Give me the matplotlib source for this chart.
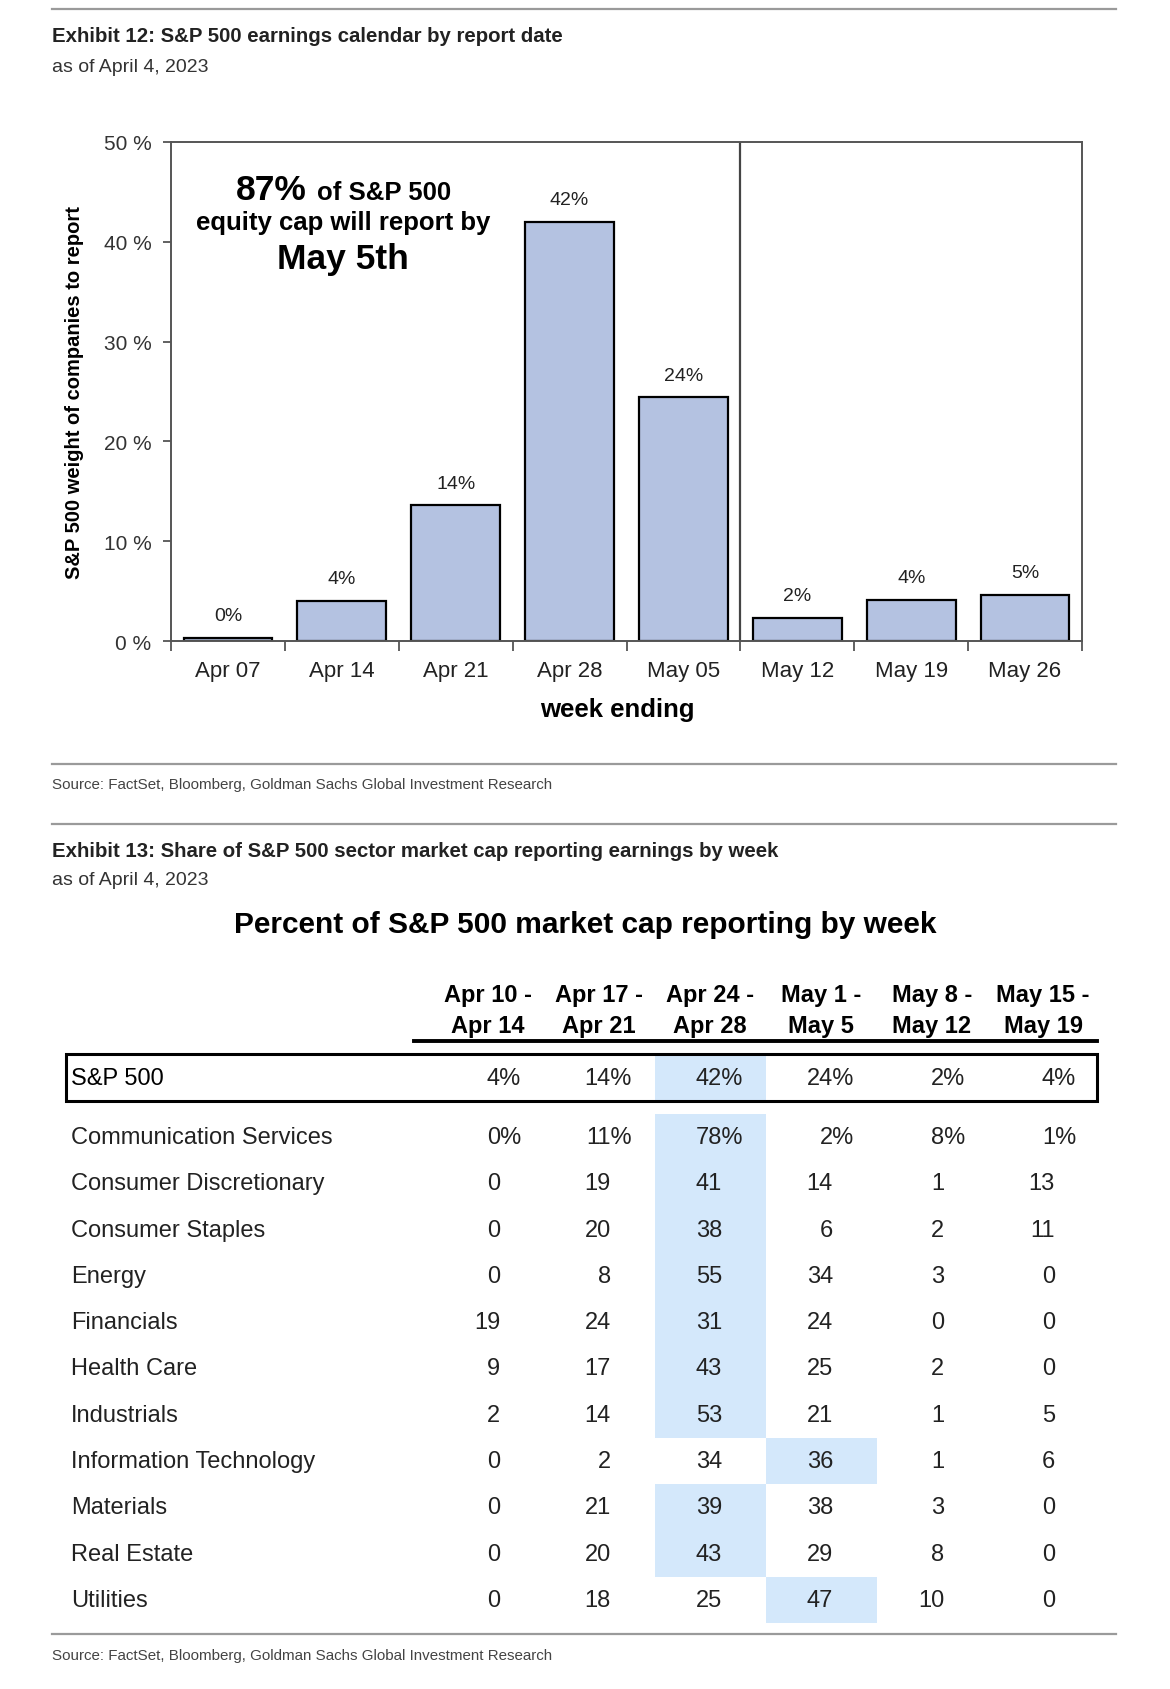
import matplotlib
matplotlib.use('Agg')
import matplotlib.pyplot as plt
import numpy as np
from matplotlib import font_manager
from matplotlib.patches import Rectangle

# 字型：圖表用 Arial 相容字型，標題用窄體（若有）
plt.rcParams['font.family'] = ['Liberation Sans', 'DejaVu Sans']
names = {f.name for f in font_manager.fontManager.ttflist}
NARROW = 'Liberation Sans Narrow' if 'Liberation Sans Narrow' in names else 'Liberation Sans'

# ---- 資料 ----
weeks = ['Apr 07', 'Apr 14', 'Apr 21', 'Apr 28', 'May 05', 'May 12', 'May 19', 'May 26']
weights = [0.3, 4.0, 13.6, 42.0, 24.4, 2.3, 4.1, 4.6]
weight_labels = ['0%', '4%', '14%', '42%', '24%', '2%', '4%', '5%']

col_top = ['Apr 10 -', 'Apr 17 -', 'Apr 24 -', 'May 1 -', 'May 8 -', 'May 15 -']
col_bottom = ['Apr 14', 'Apr 21', 'Apr 28', 'May 5', 'May 12', 'May 19']
spx_row = [4, 14, 42, 24, 2, 4]
sectors = ['Communication Services', 'Consumer Discretionary', 'Consumer Staples',
           'Energy', 'Financials', 'Health Care', 'Industrials',
           'Information Technology', 'Materials', 'Real Estate', 'Utilities']
sector_vals = [
    [0, 11, 78, 2, 8, 1],
    [0, 19, 41, 14, 1, 13],
    [0, 20, 38, 6, 2, 11],
    [0, 8, 55, 34, 3, 0],
    [19, 24, 31, 24, 0, 0],
    [9, 17, 43, 25, 2, 0],
    [2, 14, 53, 21, 1, 5],
    [0, 2, 34, 36, 1, 6],
    [0, 21, 39, 38, 3, 0],
    [0, 20, 43, 29, 8, 0],
    [0, 18, 25, 47, 10, 0],
]

source = 'Source: FactSet, Bloomberg, Goldman Sachs Global Investment Research'
asof = 'as of April 4, 2023'

W, H = 1170, 1690
fig = plt.figure(figsize=(W / 100, H / 100), dpi=100)


def fx(x):
    return x / W


def fy(y):
    return 1 - y / H


def hline(y, x0=52, x1=1116, color='#9a9a9a', lw=1.6):
    fig.add_artist(plt.Line2D([fx(x0), fx(x1)], [fy(y), fy(y)], color=color, lw=lw))


# ---- Exhibit 12 ----
hline(10)
fig.text(fx(52), fy(36), 'Exhibit 12: S&P 500 earnings calendar by report date',
         family=NARROW, weight='bold', fontsize=14.7, va='center', color='#222222')
fig.text(fx(52), fy(67), asof, family=NARROW, fontsize=14, va='center', color='#333333')

ax = fig.add_axes([fx(171), fy(642), (1082 - 171) / W, (642 - 143) / H])
x = np.arange(len(weeks))
ax.bar(x, weights, width=0.78, color='#b4c2e1', edgecolor='black', linewidth=1.6)
for i, (v, lbl) in enumerate(zip(weights, weight_labels)):
    ax.annotate(lbl, (i, v), xytext=(0, 16), textcoords='offset points',
                ha='center', va='center', fontsize=14, color='#222222')
ax.axvline(4.5, color='#444444', lw=1.6)
ax.set_xlim(-0.5, len(weeks) - 0.5)
ax.set_ylim(0, 50)
ax.set_yticks(range(0, 51, 10))
ax.set_yticklabels([f'{t} %' for t in range(0, 51, 10)])
ax.set_xticks(x)
ax.set_xticklabels(weeks)
ax.set_xticks(np.arange(-0.5, len(weeks), 1), minor=True)
ax.tick_params(axis='x', which='major', length=0, pad=14, labelsize=16, labelcolor='#222222')
ax.tick_params(axis='x', which='minor', length=7, width=1.3, color='#555555')
ax.tick_params(axis='y', length=6, width=1.3, color='#555555', pad=8, labelsize=15, labelcolor='#333333')
for s in ax.spines.values():
    s.set_color('#555555')
    s.set_linewidth(1.4)
ax.set_ylabel('S&P 500 weight of companies to report', fontsize=14.5, weight='bold', labelpad=14)
fig.text(fx(617), fy(710), 'week ending', fontsize=18.5, weight='bold', ha='center', va='center')

fig.text(fx(307), fy(200), '87%', fontsize=25.5, weight='bold', ha='right', va='baseline')
fig.text(fx(317), fy(200), 'of S&P 500', fontsize=18.5, weight='bold', ha='left', va='baseline')
fig.text(fx(343), fy(223), 'equity cap will report by', fontsize=18.5, weight='bold', ha='center', va='center')
fig.text(fx(343), fy(259), 'May 5th', fontsize=25.5, weight='bold', ha='center', va='center')

hline(765)
fig.text(fx(52), fy(785), source, family=NARROW, fontsize=10.9, va='center', color='#444444')

# ---- Exhibit 13 ----
hline(825)
fig.text(fx(52), fy(852), 'Exhibit 13: Share of S&P 500 sector market cap reporting earnings by week',
         family=NARROW, weight='bold', fontsize=14.7, va='center', color='#222222')
fig.text(fx(52), fy(881), asof, family=NARROW, fontsize=14, va='center', color='#333333')
fig.text(fx(585), fy(925), 'Percent of S&P 500 market cap reporting by week',
         fontsize=21.5, weight='bold', ha='center', va='center')

tb = fig.add_axes([0, 0, 1, 1], zorder=-1)
tb.set_xlim(0, W)
tb.set_ylim(H, 0)
tb.axis('off')

COL0, COLW = 488, 111
SPX_Y, ROW0, ROWH = 1079, 1138, 46.3
col_x = [COL0 + i * COLW for i in range(len(col_top))]
hl = '#d4e8fb'

for i in range(len(col_top)):
    tb.text(col_x[i], 996, col_top[i], fontsize=17, weight='bold', ha='center', va='center')
    tb.text(col_x[i], 1027, col_bottom[i], fontsize=17, weight='bold', ha='center', va='center')
tb.plot([414, 1097], [1042, 1042], color='black', lw=2.8)

# S&P 500 列
j = int(np.argmax(spx_row))
tb.add_patch(Rectangle((col_x[j] - COLW / 2, 1056), COLW, 45, color=hl, lw=0))
tb.add_patch(Rectangle((66, 1055), 1097 - 66, 47, fill=False, edgecolor='black', lw=2.2))
tb.text(71, SPX_Y, 'S&P 500', fontsize=17, ha='left', va='center')
for i, v in enumerate(spx_row):
    tb.text(col_x[i] + 33, SPX_Y, f'{v}%', fontsize=17, ha='right', va='center', color='#222222')

# 各產業列
for r, (name, vals) in enumerate(zip(sectors, sector_vals)):
    y = ROW0 + r * ROWH
    j = int(np.argmax(vals))
    tb.add_patch(Rectangle((col_x[j] - COLW / 2, y - ROWH / 2), COLW, ROWH, color=hl, lw=0))
    tb.text(71, y, name, fontsize=17, ha='left', va='center', color='#222222')
    for i, v in enumerate(vals):
        if r == 0:
            tb.text(col_x[i] + 33, y, f'{v}%', fontsize=17, ha='right', va='center', color='#222222')
        else:
            tb.text(col_x[i] + 12, y, f'{v}', fontsize=17, ha='right', va='center', color='#222222')

hline(1635)
fig.text(fx(52), fy(1656), source, family=NARROW, fontsize=10.9, va='center', color='#444444')

fig.savefig('out.png', dpi=100, facecolor='white')
